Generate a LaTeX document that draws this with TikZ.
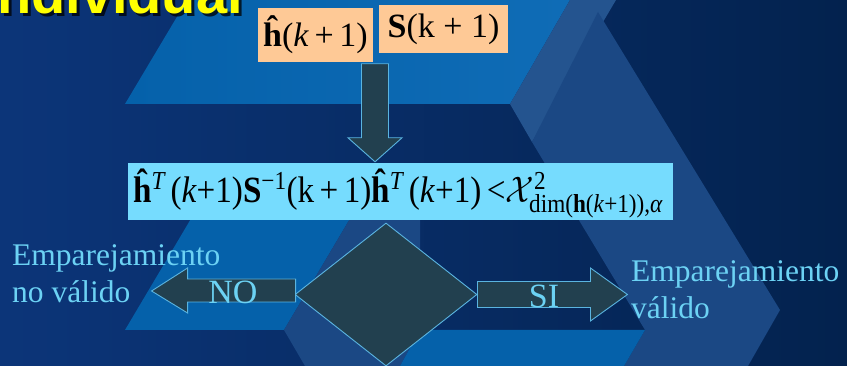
\RequirePackage{fix-cm}
\documentclass[tikz,border=0pt]{standalone}
\usepackage{amsmath}
\usepackage{graphicx}
\usepackage{fontspec}
\setmainfont{Liberation Serif}
\newfontfamily\titlefont{Liberation Sans}
\usetikzlibrary{shapes.geometric,calc}
\definecolor{bgA}{HTML}{0C3579}
\definecolor{bgB}{HTML}{03224E}
\definecolor{brightA}{HTML}{0561AA}
\definecolor{brightB}{HTML}{0F6CB6}
\definecolor{stripc}{HTML}{24548F}
\definecolor{mediumc}{HTML}{1B4884}
\definecolor{peach}{HTML}{FEC996}
\definecolor{cyanbox}{HTML}{76DCFE}
\definecolor{shapefill}{HTML}{22404F}
\definecolor{shapeline}{HTML}{5AB4E0}
\definecolor{lbl}{HTML}{6CD2F4}
\definecolor{titleY}{HTML}{FFFF00}
\tikzset{
  blockarrow/.style={draw=shapeline, fill=shapefill, line width=0.9pt, line join=miter},
  peachbox/.style={fill=peach, inner sep=0pt, font=\fontsize{34}{38}\selectfont},
  lbltext/.style={text=lbl, inner sep=0pt, font=\fontsize{31.5}{37}\selectfont},
  arrowlbl/.style={text=lbl, inner sep=0pt, font=\fontsize{34}{38}\selectfont},
}
\begin{document}
\begin{tikzpicture}[x=1pt,y=-1pt]
\useasboundingbox (0,0) rectangle (847,366);
\begin{scope}
\clip (0,0) rectangle (847,366);
% background
\shade[left color=bgA, right color=bgB] (0,0) rectangle (847,366);
\shade[left color=brightA, right color=brightB] (187,0) -- (570,0) -- (510,104) -- (125,104) -- cycle;
\fill[stripc] (570,0) -- (616,0) -- (532,142) -- (510,104) -- cycle;
\fill[mediumc] (598,12) -- (780,310) -- (748,366) -- (624,366) -- (645,330) -- (532,142) -- cycle;
\fill[brightA] (192,217) -- (351,217) -- (284,330) -- (125,330) -- cycle;
\fill[mediumc] (351,217) -- (420,217) -- (420,330) -- (400,366) -- (305,366) -- (284,330) -- cycle;
\fill[brightA] (420,330) -- (645,330) -- (624,366) -- (400,366) -- cycle;
% title
\node[anchor=base east, font=\titlefont\bfseries\fontsize{56}{60}\selectfont, text=black, opacity=0.75, inner sep=0pt] (titleshadow) at (246,17) {individual};
\node[anchor=base east, font=\titlefont\bfseries\fontsize{56}{60}\selectfont, text=titleY, inner sep=0pt] (title) at (243,14) {individual};
\end{scope}

% input boxes
\node[peachbox, minimum width=115pt, minimum height=54pt] (hbox) at (315.5,35) {{\bfseries ĥ}(\textit{k}\,+\,1)};
\node[peachbox, minimum width=129pt, minimum height=48pt] (sbox) at (443.5,29) {{\bfseries S}(k + 1)};

% test formula
\node[fill=cyanbox, inner sep=0pt, minimum width=545pt, minimum height=57pt] (test) at (400.5,191.5) {};
\node[anchor=base west, inner sep=0pt, font=\fontsize{37}{42}\selectfont] (testtxt) at (133,203)
  {\resizebox{530pt}{\height}{{\bfseries ĥ}\textsuperscript{\itshape T}\,(\textit{k}+1){\bfseries S}\textsuperscript{−1}(k\,+\,1){\bfseries ĥ}\textsuperscript{\itshape T}\,(\textit{k}+1)\,<$\mathcal{X}^{\text{2}}_{\text{dim(\textbf{h}(\textit{k}+1)),\textit{α}}}$}};

% down arrow
\coordinate (dtip) at ($(test.north)+(-25.5,-1)$);
\draw[blockarrow] (dtip) -- ++(-27,-24) -- ++(13.5,0) -- ++(0,-74) -- ++(27,0) -- ++(0,74) -- ++(13.5,0) -- cycle;

% decision diamond
\node[diamond, draw=shapeline, fill=shapefill, line width=0.9pt, minimum width=182pt, minimum height=143pt, inner sep=0pt] (dec) at (386,294.5) {};

% NO arrow
\coordinate (noref) at ($(dec.west)+(1,-4)$);
\draw[blockarrow] (noref) ++(0,-11.5) -- ++(-108,0) -- ++(0,-11) -- ++(-36,23) -- ++(36,22) -- ++(0,-11) -- ++(108,0) -- cycle;
\node[arrowlbl, anchor=base] (nolbl) at (233,304) {NO};

% SI arrow
\coordinate (siref) at (dec.east);
\draw[blockarrow] (siref) ++(0,-13) -- ++(113,0) -- ++(0,-13.5) -- ++(37,26.5) -- ++(-37,26.5) -- ++(0,-13.5) -- ++(-113,0) -- cycle;
\node[arrowlbl, anchor=base] (silbl) at (544,308) {SI};

% outcome labels
\node[lbltext, anchor=base west] (nv1) at (12,266) {Emparejamiento};
\node[lbltext, anchor=base west] (nv2) at (12,303) {no válido};
\node[lbltext, anchor=base west] (v1) at (631,282) {Emparejamiento};
\node[lbltext, anchor=base west] (v2) at (631,319) {válido};
\end{tikzpicture}
\end{document}
